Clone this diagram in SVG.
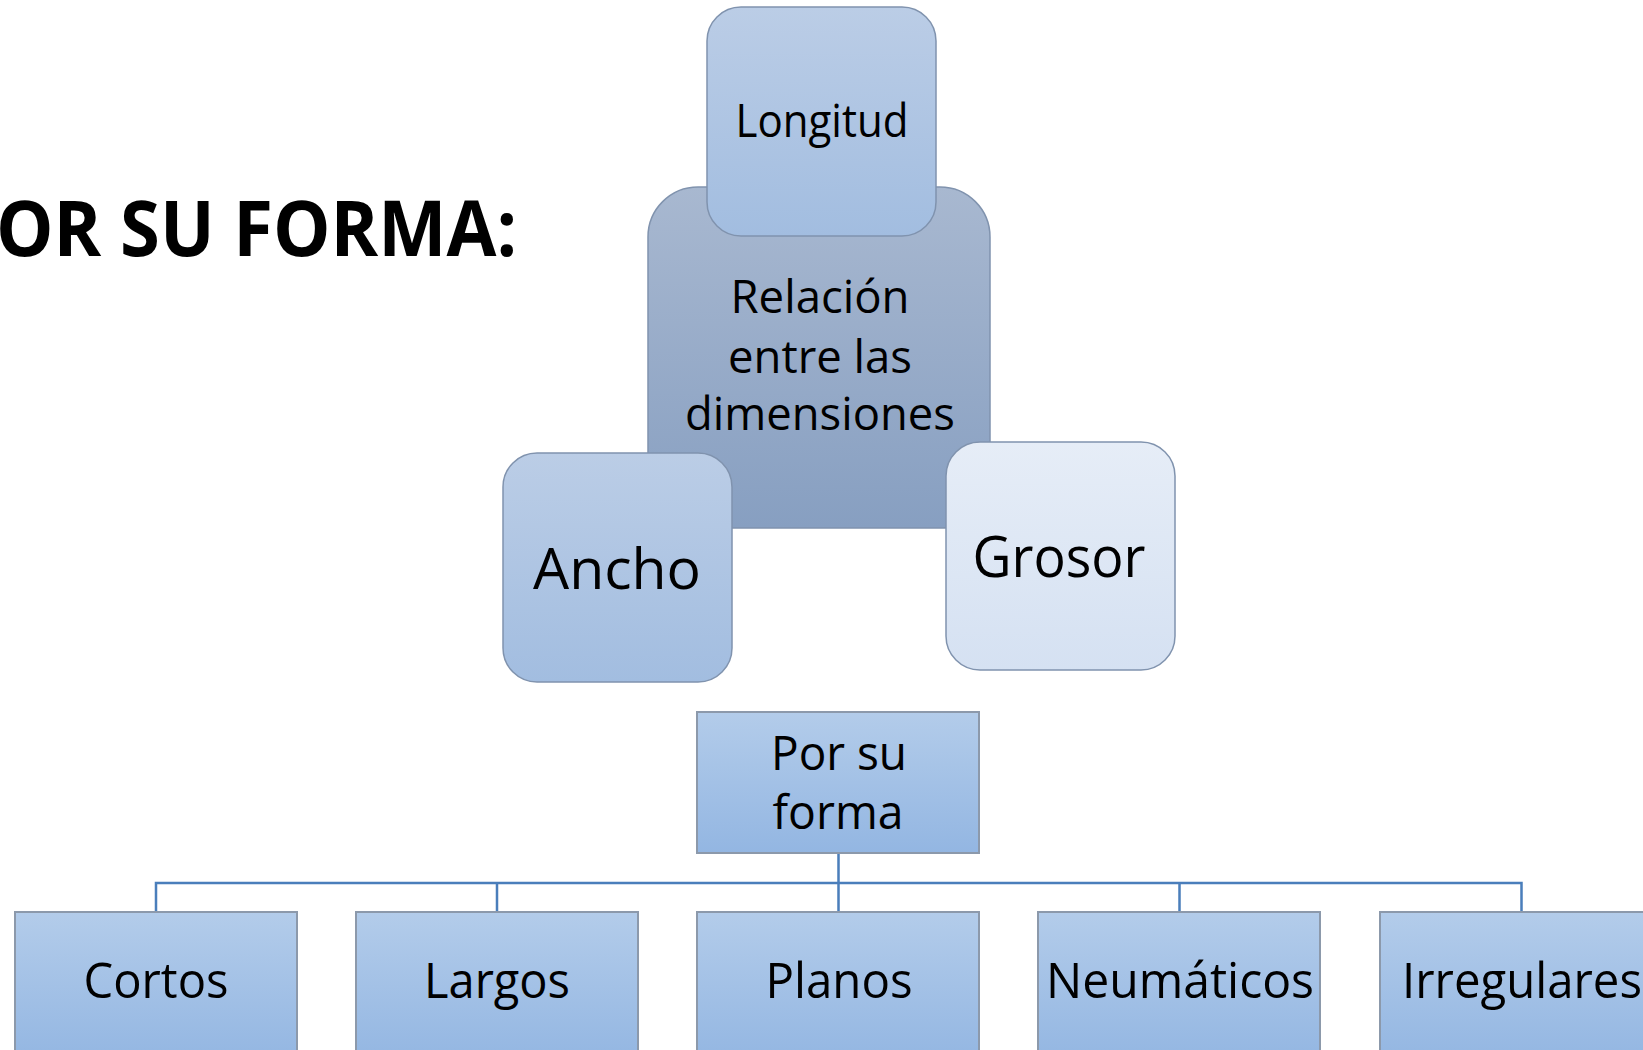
<svg xmlns="http://www.w3.org/2000/svg" width="1643" height="1050" viewBox="0 0 1643 1050">
<defs>
<linearGradient id="gMid" x1="0" y1="0" x2="0" y2="1"><stop offset="0" stop-color="#BBCDE6"/><stop offset="1" stop-color="#A2BDE0"/></linearGradient>
<linearGradient id="gDark" x1="0" y1="0" x2="0" y2="1"><stop offset="0" stop-color="#A8B8D0"/><stop offset="1" stop-color="#879FC1"/></linearGradient>
<linearGradient id="gLight" x1="0" y1="0" x2="0" y2="1"><stop offset="0" stop-color="#E6EDF7"/><stop offset="1" stop-color="#D5E1F2"/></linearGradient>
<linearGradient id="gBox" x1="0" y1="0" x2="0" y2="1"><stop offset="0" stop-color="#B3CCEA"/><stop offset="1" stop-color="#93B6E2"/></linearGradient>
</defs>
<style>
.rr{stroke:#8093AE;stroke-width:1.5}
.bx{fill:url(#gBox);stroke:#8C99AB;stroke-width:2}
.t{font-family:"Open Sans","Liberation Sans",sans-serif;fill:#000;text-anchor:middle}
.conn{fill:none;stroke:#4A7EBB;stroke-width:2.5}
</style>
<rect width="1643" height="1050" fill="#FFFFFF"/>
<text x="-4" y="256" font-family="'Open Sans','Liberation Sans',sans-serif" font-weight="bold" font-size="77" textLength="521" lengthAdjust="spacingAndGlyphs">OR SU FORMA:</text>
<g id="relacion">
<rect class="rr" x="648" y="187" width="342" height="341" rx="50" fill="url(#gDark)"/>
<text class="t" font-size="45" x="820" y="313" textLength="179" lengthAdjust="spacingAndGlyphs">Relación</text>
<text class="t" font-size="45" x="820" y="373" textLength="184" lengthAdjust="spacingAndGlyphs">entre las</text>
<text class="t" font-size="45" x="820" y="430" textLength="270" lengthAdjust="spacingAndGlyphs">dimensiones</text>
</g>
<g id="longitud">
<rect class="rr" x="707" y="7" width="229" height="229" rx="34" fill="url(#gMid)"/>
<text class="t" font-size="45" x="822" y="137" textLength="173" lengthAdjust="spacingAndGlyphs">Longitud</text>
</g>
<g id="ancho">
<rect class="rr" x="503" y="453" width="229" height="229" rx="34" fill="url(#gMid)"/>
<text class="t" font-size="57" x="617" y="589" textLength="168" lengthAdjust="spacingAndGlyphs">Ancho</text>
</g>
<g id="grosor">
<rect class="rr" x="946" y="442" width="229" height="228" rx="34" fill="url(#gLight)"/>
<text class="t" font-size="57" x="1059" y="577" textLength="173" lengthAdjust="spacingAndGlyphs">Grosor</text>
</g>
<g id="connectors">
<path class="conn" d="M838.5 853 V911 M156 911 V883 H1521.5 V911 M497 883 V911 M1179.5 883 V911"/>
</g>
<g id="porsuforma">
<rect class="bx" x="697" y="712" width="282" height="141"/>
<text class="t" font-size="47" x="839" y="770" textLength="136" lengthAdjust="spacingAndGlyphs">Por su</text>
<text class="t" font-size="47" x="838" y="829" textLength="131" lengthAdjust="spacingAndGlyphs">forma</text>
</g>
<g id="cortos">
<rect class="bx" x="15" y="912" width="282" height="150"/>
<text class="t" font-size="49" x="156" y="998" textLength="145" lengthAdjust="spacingAndGlyphs">Cortos</text>
</g>
<g id="largos">
<rect class="bx" x="356" y="912" width="282" height="150"/>
<text class="t" font-size="49" x="497" y="998" textLength="146" lengthAdjust="spacingAndGlyphs">Largos</text>
</g>
<g id="planos">
<rect class="bx" x="697" y="912" width="282" height="150"/>
<text class="t" font-size="49" x="839" y="998" textLength="147" lengthAdjust="spacingAndGlyphs">Planos</text>
</g>
<g id="neumaticos">
<rect class="bx" x="1038" y="912" width="282" height="150"/>
<text class="t" font-size="49" x="1180" y="998" textLength="268" lengthAdjust="spacingAndGlyphs">Neumáticos</text>
</g>
<g id="irregulares">
<rect class="bx" x="1380" y="912" width="282" height="150"/>
<text class="t" font-size="49" x="1522" y="998" textLength="240" lengthAdjust="spacingAndGlyphs">Irregulares</text>
</g>
</svg>
